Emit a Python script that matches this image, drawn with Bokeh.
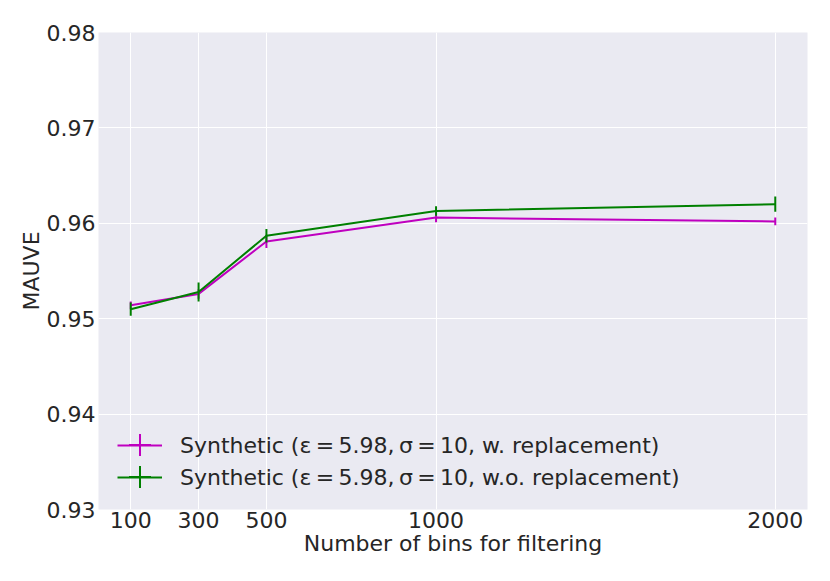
from bokeh.plotting import figure
from bokeh.models import ColumnDataSource, FixedTicker, Legend, LegendItem, Range1d
from bokeh.embed import file_html
from bokeh.resources import INLINE

# ---- data ----
bins = [100, 300, 500, 1000, 2000]
mauve_w = [0.9514, 0.9526, 0.9581, 0.9606, 0.9602]
err_w = [0.0004, 0.0005, 0.0007, 0.0005, 0.0004]
mauve_wo = [0.9510, 0.9528, 0.9587, 0.9613, 0.9620]
err_wo = [0.0007, 0.0010, 0.0007, 0.0005, 0.0008]
x_ticks = [100, 300, 500, 1000, 2000]
y_ticks = [0.93, 0.94, 0.95, 0.96, 0.97, 0.98]
TS = "\u2009"
label_w = f"Synthetic (ε{TS}={TS}5.98,{TS}σ{TS}={TS}10, w. replacement)"
label_wo = f"Synthetic (ε{TS}={TS}5.98,{TS}σ{TS}={TS}10, w.o. replacement)"
x_label = "Number of bins for filtering"
y_label = "MAUVE"

MAGENTA = "#bf00bf"
GREEN = "#008000"
FONT = "DejaVu Sans"
TXT = "#262626"
FS = "22px"

p = figure(width=822, height=573, output_backend="svg", toolbar_location=None,
           x_range=Range1d(5, 2095), y_range=Range1d(0.93, 0.98),
           min_border_left=98, min_border_right=15, min_border_top=32, min_border_bottom=64)
p.background_fill_color = "#eaeaf2"
p.border_fill_color = "white"
p.outline_line_color = None

for ax in (p.xaxis[0], p.yaxis[0]):
    ax.axis_line_color = None
    ax.major_tick_line_color = None
    ax.minor_tick_line_color = None
    ax.major_tick_in = 0
    ax.major_tick_out = 0
    ax.minor_tick_in = 0
    ax.minor_tick_out = 0
    ax.major_label_text_font = FONT
    ax.major_label_text_font_size = FS
    ax.major_label_text_color = TXT
    ax.axis_label_text_font = FONT
    ax.axis_label_text_font_size = FS
    ax.axis_label_text_font_style = "normal"
    ax.axis_label_text_color = TXT

p.xaxis.ticker = FixedTicker(ticks=x_ticks)
p.yaxis.ticker = FixedTicker(ticks=y_ticks)
p.xaxis.major_label_standoff = 2
p.yaxis.major_label_standoff = 3
p.xaxis.axis_label = x_label
p.yaxis.axis_label = y_label
p.xaxis.axis_label_standoff = 0
p.yaxis.axis_label_standoff = 0

p.xgrid.grid_line_color = "white"
p.ygrid.grid_line_color = "white"
p.xgrid.grid_line_width = 1
p.ygrid.grid_line_width = 1

def series(ys, errs, color):
    src = ColumnDataSource(dict(
        x=bins, y=ys,
        lo=[v - e for v, e in zip(ys, errs)],
        hi=[v + e for v, e in zip(ys, errs)],
    ))
    ln = p.line("x", "y", source=src, line_color=color, line_width=2)
    p.segment(x0="x", y0="lo", x1="x", y1="hi", source=src, line_color=color, line_width=2)
    # zero-size markers: only used to draw the vertical tick in the legend
    mk = p.scatter("x", "y", source=src, marker="cross", size=0,
                   line_color=color, line_width=2)
    return ln, mk

ln_w, mk_w = series(mauve_w, err_w, MAGENTA)
ln_wo, mk_wo = series(mauve_wo, err_wo, GREEN)

common = dict(padding=0, margin=0, border_line_color=None, background_fill_alpha=0,
              label_text_font=FONT, label_text_color=TXT)

legend_lines = Legend(items=[LegendItem(label=label_w, renderers=[ln_w]),
                             LegendItem(label=label_wo, renderers=[ln_wo])],
                      location=(19, 17), spacing=2,
                      glyph_width=45, glyph_height=30, label_height=30,
                      label_standoff=18, label_text_font_size=FS, **common)
tick_opts = dict(glyph_width=55, glyph_height=55, label_height=10,
                 label_standoff=0, label_text_font_size="2px", **common)
legend_tick_w = Legend(items=[LegendItem(label=" ", renderers=[mk_w])],
                       location=(14, 37), **tick_opts)
legend_tick_wo = Legend(items=[LegendItem(label=" ", renderers=[mk_wo])],
                        location=(14, 5), **tick_opts)
p.add_layout(legend_lines, "center")
p.add_layout(legend_tick_w, "center")
p.add_layout(legend_tick_wo, "center")

open("out.html", "w").write(file_html(p, INLINE))
